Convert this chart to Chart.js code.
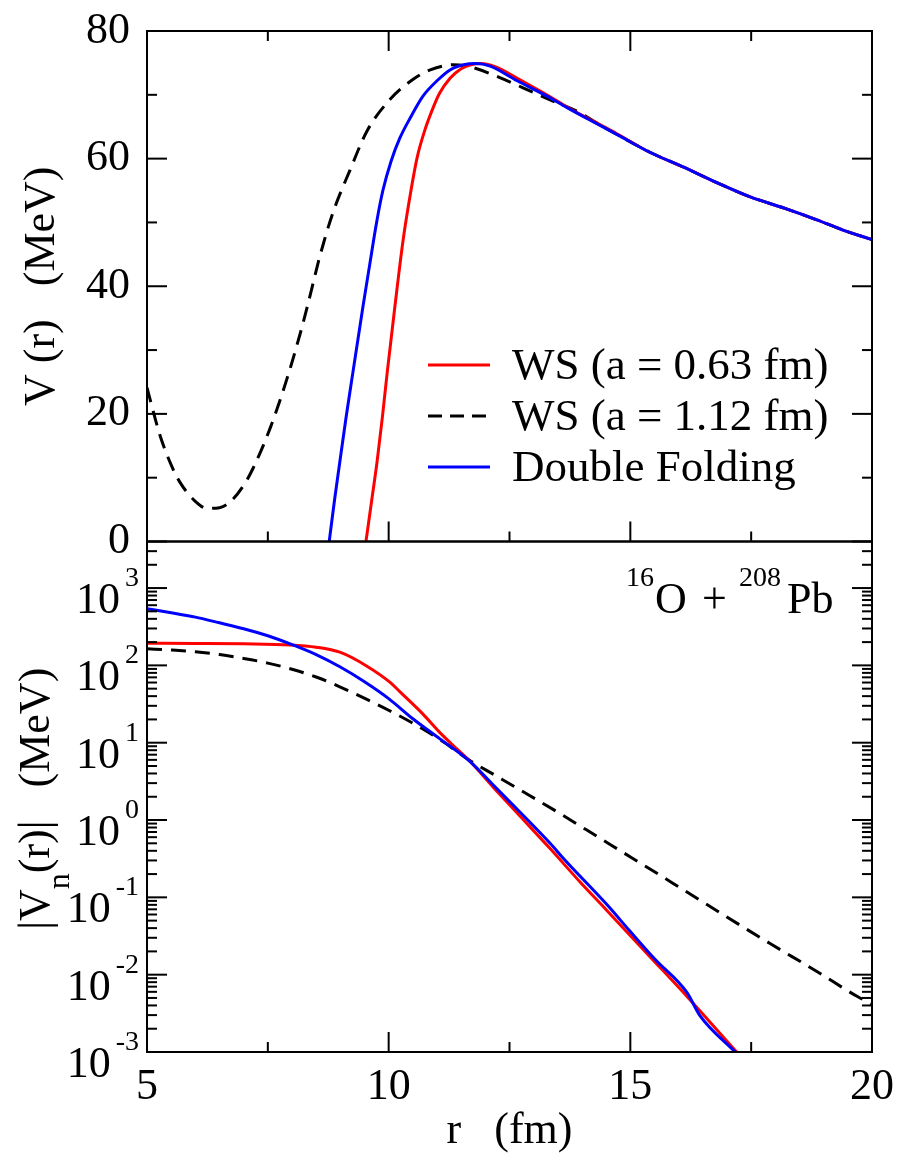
<!DOCTYPE html>
<html>
<head>
<meta charset="utf-8">
<script src="https://cdn.jsdelivr.net/npm/chart.js@4.4.1/dist/chart.umd.min.js"></script>
<style>
  html, body { margin: 0; padding: 0; background: #fff; }
  #wrap { width: 902px; height: 1156px; position: relative; }
</style>
</head>
<body>
<div id="wrap"><canvas id="myChart"></canvas></div>
<script>
// upper panel: V(r) in MeV
const rRedTop = [9.53, 9.65, 9.76, 9.87, 9.97, 10.13, 10.30, 10.45, 10.59, 10.75, 10.90, 11.05, 11.27, 11.50, 11.70, 11.90, 12.20, 12.66, 13.20, 13.69, 14.20, 14.72, 15.40, 16.09, 16.80, 17.48, 18.20, 18.86, 19.40, 20.00];
const vRedTop = [0, 6.5, 12.5, 19.5, 26.5, 36.9, 47.3, 54.5, 60.2, 64.5, 67.6, 70.2, 72.6, 74.1, 74.7, 74.9, 74.4, 72.6, 70.3, 68.1, 66.0, 63.9, 61.0, 58.7, 56.2, 54.0, 52.2, 50.4, 48.8, 47.3];

const rBlackTop = [5.00, 5.27, 5.50, 5.68, 6.00, 6.24, 6.50, 6.72, 7.00, 7.19, 7.55, 7.90, 8.17, 8.31, 8.58, 8.85, 9.20, 9.55, 10.03, 10.50, 10.86, 11.33, 11.68, 12.30, 12.78, 13.34, 13.90, 14.37, 15.41, 16.09, 16.80, 17.48, 18.20, 18.86, 19.40, 20.00];
const vBlackTop = [24.1, 16.6, 12.0, 9.3, 6.3, 5.2, 5.3, 6.2, 8.8, 11.4, 17.8, 25.6, 32.6, 36.6, 44.8, 51.6, 58.2, 64.3, 69.3, 72.4, 73.9, 74.7, 74.4, 72.7, 71.1, 69.2, 67.4, 65.3, 61.0, 58.7, 56.2, 54.0, 52.2, 50.4, 48.8, 47.3];

const rBlueTop = [8.77, 8.88, 8.99, 9.12, 9.26, 9.47, 9.61, 9.75, 9.88, 10.05, 10.23, 10.44, 10.71, 11.00, 11.27, 11.55, 11.80, 12.10, 12.66, 13.20, 13.69, 14.20, 14.72, 15.40, 16.09, 16.80, 17.48, 18.20, 18.86, 19.40, 20.00];
const vBlueTop = [0, 6.5, 12.5, 19.5, 26.5, 36.9, 43.5, 50.0, 55.0, 59.6, 63.2, 66.3, 69.8, 72.2, 73.9, 74.7, 74.9, 74.5, 72.2, 70.1, 68.0, 65.9, 63.8, 61.0, 58.7, 56.2, 54.0, 52.2, 50.4, 48.8, 47.3];

// lower panel: |Vn(r)| in MeV (log)
const rRedLog = [5.00, 6.00, 7.00, 7.96, 8.50, 8.99, 9.55, 10.03, 10.23, 10.71, 11.06, 11.41, 11.68, 12.20, 12.72, 13.34, 13.96, 14.50, 15.41, 16.20, 17.20];
const vRedLog = [193, 192, 190, 184, 172, 148, 97.7, 60.3, 45.7, 23.4, 13.5, 8.32, 5.75, 2.51, 1.12, 0.427, 0.158, 0.0692, 0.0170, 0.00501, 0.00100];

const rBlackLog = [5.00, 5.50, 6.00, 6.50, 7.00, 7.50, 8.00, 8.50, 9.00, 9.55, 10.00, 10.59, 11.06, 11.68, 12.20, 12.72, 13.50, 14.10, 15.06, 15.50, 16.09, 17.27, 17.90, 18.86, 19.69, 20.00];
const vBlackLog = [164, 158, 150, 138, 123, 107, 89.1, 70.8, 52.5, 36.3, 26.3, 16.6, 11.0, 5.89, 3.80, 2.45, 1.26, 0.741, 0.316, 0.214, 0.126, 0.0437, 0.0251, 0.0110, 0.00525, 0.00417];

const rBlueLog = [5.00, 5.50, 6.00, 6.50, 7.00, 7.50, 8.00, 8.50, 9.00, 9.50, 10.00, 10.50, 11.06, 11.68, 12.20, 12.72, 13.34, 13.65, 14.51, 14.99, 15.51, 16.17, 16.44, 17.17];
const vBlueLog = [542, 479, 421, 355, 298, 242, 186, 138, 95.3, 61.5, 37.2, 20.4, 11.2, 5.75, 2.69, 1.26, 0.50, 0.302, 0.0813, 0.0367, 0.0158, 0.00589, 0.00295, 0.00100];

// legend / ticks
const seriesNames = ["WS (a = 0.63 fm)", "WS (a = 1.12 fm)", "Double Folding"];
const seriesColors = ["#ff0000", "#000000", "#0000ff"];
const xMajor = [5, 10, 15, 20];
const xMinor = [7.5, 12.5, 17.5];
const vMajor = [0, 20, 40, 60, 80];
const vMinor = [10, 30, 50, 70];
const logMajor = [0.001, 0.01, 0.1, 1, 10, 100, 1000];
const logExp = ["-3", "-2", "-1", "0", "1", "2", "3"];
const logMinorMult = [2, 3, 4, 5, 6, 7, 8, 9];

const FONT = "'Liberation Serif', 'Times New Roman', serif";
const DASH = [15, 9];

const mkData = (rs, vs) => rs.map((r, i) => ({ x: r, y: vs[i] }));

const lineStyle = {
  borderWidth: 3,
  pointRadius: 0,
  fill: false,
  cubicInterpolationMode: "monotone",
  xAxisID: "x",
};

const decor = {
  id: "decor",
  afterDatasetsDraw(chart) {
    const c = chart.ctx;
    const xs = chart.scales.x;
    const yT = chart.scales.yTop;
    const yL = chart.scales.yLog;
    const left = xs.left, right = xs.right;
    c.save();
    c.strokeStyle = "#000";
    c.fillStyle = "#000";
    c.lineWidth = 2;
    c.strokeRect(left, yT.top, right - left, yT.bottom - yT.top);
    c.strokeRect(left, yL.top, right - left, yL.bottom - yL.top);

    const seg = (x1, y1, x2, y2) => { c.beginPath(); c.moveTo(x1, y1); c.lineTo(x2, y2); c.stroke(); };

    // x ticks (inward)
    const xt = (vals, len) => vals.forEach(v => {
      const px = xs.getPixelForValue(v);
      seg(px, yT.top, px, yT.top + len);
      seg(px, yT.bottom, px, yT.bottom - len);
      seg(px, yL.bottom, px, yL.bottom - len);
    });
    xt(xMajor, 20);
    xt(xMinor, 10);

    // y ticks both sides
    const yt = (sc, vals, len) => vals.forEach(v => {
      const py = sc.getPixelForValue(v);
      seg(left, py, left + len, py);
      seg(right, py, right - len, py);
    });
    yt(yT, vMajor, 20);
    yt(yT, vMinor, 10);
    yt(yL, logMajor, 20);
    const logMinor = [];
    logMajor.forEach(d => logMinorMult.forEach(m => { if (d * m < 4000) logMinor.push(d * m); }));
    yt(yL, logMinor, 10);

    // log tick labels 10^n
    c.textBaseline = "alphabetic";
    logMajor.forEach((v, i) => {
      const py = yL.getPixelForValue(v);
      c.font = "28px " + FONT;
      const ew = c.measureText(logExp[i]).width;
      c.textAlign = "left";
      c.fillText(logExp[i], left - 8 - ew, py - 2);
      c.font = "44px " + FONT;
      c.textAlign = "right";
      c.fillText("10", left - 8 - ew - 5, py + 25);
    });

    // rotated y titles
    const rotText = (parts, bx, cy) => {
      c.save();
      c.translate(bx, cy);
      c.rotate(-Math.PI / 2);
      c.textAlign = "left";
      let w = 0;
      parts.forEach(p => { c.font = p.size + "px " + FONT; p.w = c.measureText(p.t).width; w += p.w; });
      let x0 = -w / 2;
      parts.forEach(p => { c.font = p.size + "px " + FONT; c.fillText(p.t, x0, p.dy); x0 += p.w; });
      c.restore();
    };
    rotText([{ t: "V (r)   (MeV)", size: 44, dy: 0 }], 54, (yT.top + yT.bottom) / 2);
    rotText([
      { t: "|V", size: 44, dy: 0 },
      { t: "n", size: 32, dy: 20 },
      { t: "(r)|   (MeV)", size: 44, dy: 0 },
    ], 49, (yL.top + yL.bottom) / 2 + 2);

    // x title
    c.font = "44px " + FONT;
    c.textAlign = "center";
    c.fillText("r   (fm)", (left + right) / 2, 1143);

    // legend
    c.textAlign = "left";
    c.font = "45px " + FONT;
    seriesNames.forEach((name, i) => {
      const ly = yT.top + 334 + i * 51;
      c.strokeStyle = seriesColors[i];
      c.lineWidth = 3;
      c.setLineDash(i === 1 ? [14, 8] : []);
      seg(428, ly, 490, ly);
      c.setLineDash([]);
      c.fillText(name, 512, ly + 14);
    });

    // reaction label
    c.font = "28px " + FONT;
    c.fillText("16", 626, yL.top + 44);
    c.fillText("208", 739, yL.top + 44);
    c.font = "44px " + FONT;
    c.fillText("O", 655, yL.top + 71);
    c.fillText("+", 702, yL.top + 71);
    c.fillText("Pb", 787, yL.top + 71);
    c.restore();
  },
};

const ctx = document.getElementById("myChart").getContext("2d");

const myChart = new Chart(ctx, {
  type: "line",
  data: {
    datasets: [
      { ...lineStyle, label: seriesNames[0], data: mkData(rRedTop, vRedTop), borderColor: seriesColors[0], yAxisID: "yTop", order: 1 },
      { ...lineStyle, label: seriesNames[1], data: mkData(rBlackTop, vBlackTop), borderColor: seriesColors[1], borderDash: DASH, yAxisID: "yTop", order: 2 },
      { ...lineStyle, label: seriesNames[2], data: mkData(rBlueTop, vBlueTop), borderColor: seriesColors[2], yAxisID: "yTop", order: 0 },
      { ...lineStyle, label: seriesNames[0], data: mkData(rRedLog, vRedLog), borderColor: seriesColors[0], yAxisID: "yLog", order: 1 },
      { ...lineStyle, label: seriesNames[1], data: mkData(rBlackLog, vBlackLog), borderColor: seriesColors[1], borderDash: DASH, yAxisID: "yLog", order: 2 },
      { ...lineStyle, label: seriesNames[2], data: mkData(rBlueLog, vBlueLog), borderColor: seriesColors[2], yAxisID: "yLog", order: 0 },
    ],
  },
  options: {
    responsive: true,
    maintainAspectRatio: false,
    animation: false,
    events: [],
    layout: { padding: { top: 23, right: 30, left: 0, bottom: 0 } },
    plugins: { legend: { display: false }, tooltip: { enabled: false } },
    scales: {
      x: {
        type: "linear",
        min: 5,
        max: 20,
        grid: { display: false },
        border: { display: false },
        ticks: { stepSize: 5, maxRotation: 0, padding: 5, color: "#000", font: { family: FONT, size: 44, lineHeight: 1 } },
        afterFit(s) { s.height = 104; },
      },
      yLog: {
        type: "logarithmic",
        position: "left",
        stack: "panels",
        stackWeight: 1,
        min: 0.001,
        max: 4000,
        grid: { display: false },
        border: { display: false },
        ticks: { display: false },
        afterFit(s) { s.width = 147; },
      },
      yTop: {
        type: "linear",
        position: "left",
        stack: "panels",
        stackWeight: 1,
        min: 0,
        max: 80,
        grid: { display: false },
        border: { display: false },
        ticks: { stepSize: 20, padding: 9, color: "#000", font: { family: FONT, size: 44, lineHeight: 1 } },
        afterFit(s) { s.width = 147; },
      },
    },
  },
  plugins: [decor],
});
</script>
</body>
</html>
